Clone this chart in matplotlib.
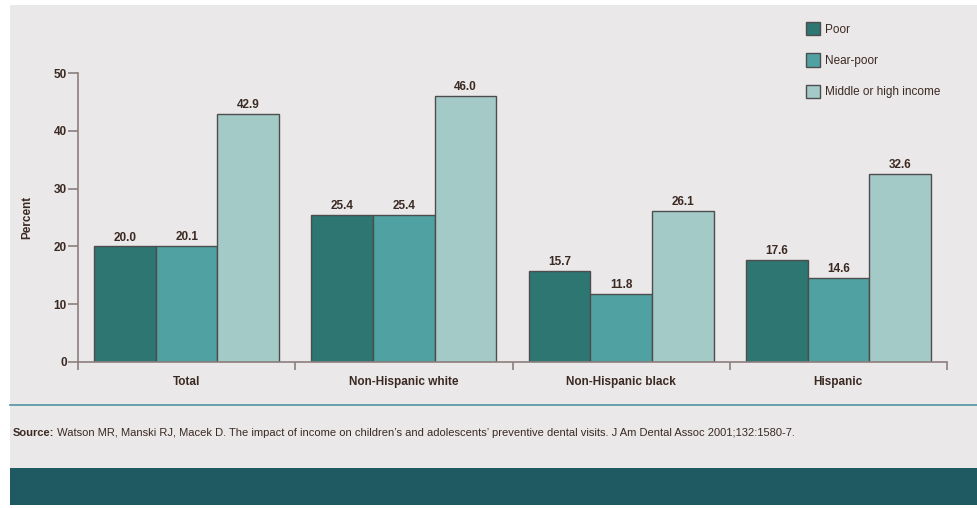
import matplotlib
matplotlib.use("Agg")
import matplotlib.pyplot as plt
from matplotlib.patches import Rectangle
import numpy as np

categories = ["Total", "Non-Hispanic white", "Non-Hispanic black", "Hispanic"]
series_names = ["Poor", "Near-poor", "Middle or high income"]
poor = [20.0, 25.4, 15.7, 17.6]
near_poor = [20.1, 25.4, 11.8, 14.6]
middle_high = [42.9, 46.0, 26.1, 32.6]
yticks = [0, 10, 20, 30, 40, 50]
source_label = "Source:"
source_text = ("Watson MR, Manski RJ, Macek D. The impact of income on children\u2019s and adolescents\u2019 "
               "preventive dental visits. J Am Dental Assoc 2001;132:1580-7.")

colors = ["#2d7672", "#50a2a2", "#a3cac7"]
bg = "#eae8e9"
txt = "#3b2a22"
axis_col = "#8c7f7d"

plt.rcParams['font.family'] = ['Liberation Sans Narrow', 'Liberation Sans', 'DejaVu Sans']

W, H = 977, 508
fig = plt.figure(figsize=(W / 100, H / 100), dpi=100, facecolor="white")

# background panels
fig.patches.append(Rectangle((10 / W, 3 / H), 1 - 10 / W, (505 - 3 - 2) / H,
                             transform=fig.transFigure, facecolor=bg, edgecolor="none", zorder=-10))
fig.patches.append(Rectangle((10 / W, (508 - 505) / H), 1 - 10 / W, (505 - 468) / H,
                             transform=fig.transFigure, facecolor="#1f5a63", edgecolor="none", zorder=-9))
fig.lines.append(plt.Line2D([10 / W, 1], [(508 - 405) / H] * 2, transform=fig.transFigure,
                            color="#5c9ba6", lw=1.3))

ax = fig.add_axes([78 / W, (508 - 362) / H, (947 - 78) / W, (362 - 73) / H])
ax.set_facecolor("none")

x = np.arange(len(categories))
w = 0.284
data = [poor, near_poor, middle_high]
bars = []
for i, (vals, c, name) in enumerate(zip(data, colors, series_names)):
    b = ax.bar(x + (i - 1) * w, vals, width=w, color=c, edgecolor="#4d4d4d", linewidth=1.0,
               label=name, zorder=2)
    bars.append(b)
    ax.bar_label(b, fmt="%.1f", padding=2, fontsize=8.5, color=txt, fontweight="bold")

ax.set_xlim(-0.5, len(categories) - 0.5)
ax.set_ylim(0, 50)
ax.set_yticks(yticks)
ax.tick_params(axis="y", length=7, width=1.2, color=axis_col, labelsize=8.5, labelcolor=txt, pad=1)
for lab in ax.get_yticklabels():
    lab.set_fontweight("bold")
ax.set_xticks(x)
ax.set_xticklabels(categories, fontsize=8.5, color=txt, fontweight="bold")
ax.tick_params(axis="x", which="major", length=0, pad=10)
ax.set_xticks(np.arange(-0.5, len(categories)), minor=True)
ax.tick_params(axis="x", which="minor", length=6, width=1.2, color=axis_col)

for s in ["top", "right"]:
    ax.spines[s].set_visible(False)
for s in ["left", "bottom"]:
    ax.spines[s].set_color(axis_col)
    ax.spines[s].set_linewidth(1.2)

ax.set_ylabel("Percent", fontsize=8.5, color=txt, fontweight="bold")
ax.yaxis.set_label_coords(-0.052, 0.5)

fig.legend(handles=bars, labels=series_names, loc="upper left",
           bbox_to_anchor=(806 / W, 1 - 22 / H), frameon=False, fontsize=8.5,
           handlelength=1.2, handleheight=1.35, labelspacing=1.5, handletextpad=0.45,
           labelcolor=txt, borderaxespad=0, borderpad=0)

t1 = fig.text(13 / W, (508 - 433) / H, source_label, fontsize=8, color=txt,
              fontweight="bold", va="center", ha="left")
ax.annotate(" " + source_text, xy=(1, 0.5), xycoords=t1, va="center", ha="left",
            fontsize=8, color=txt, annotation_clip=False)

fig.savefig("out.png", dpi=100, facecolor=fig.get_facecolor())
